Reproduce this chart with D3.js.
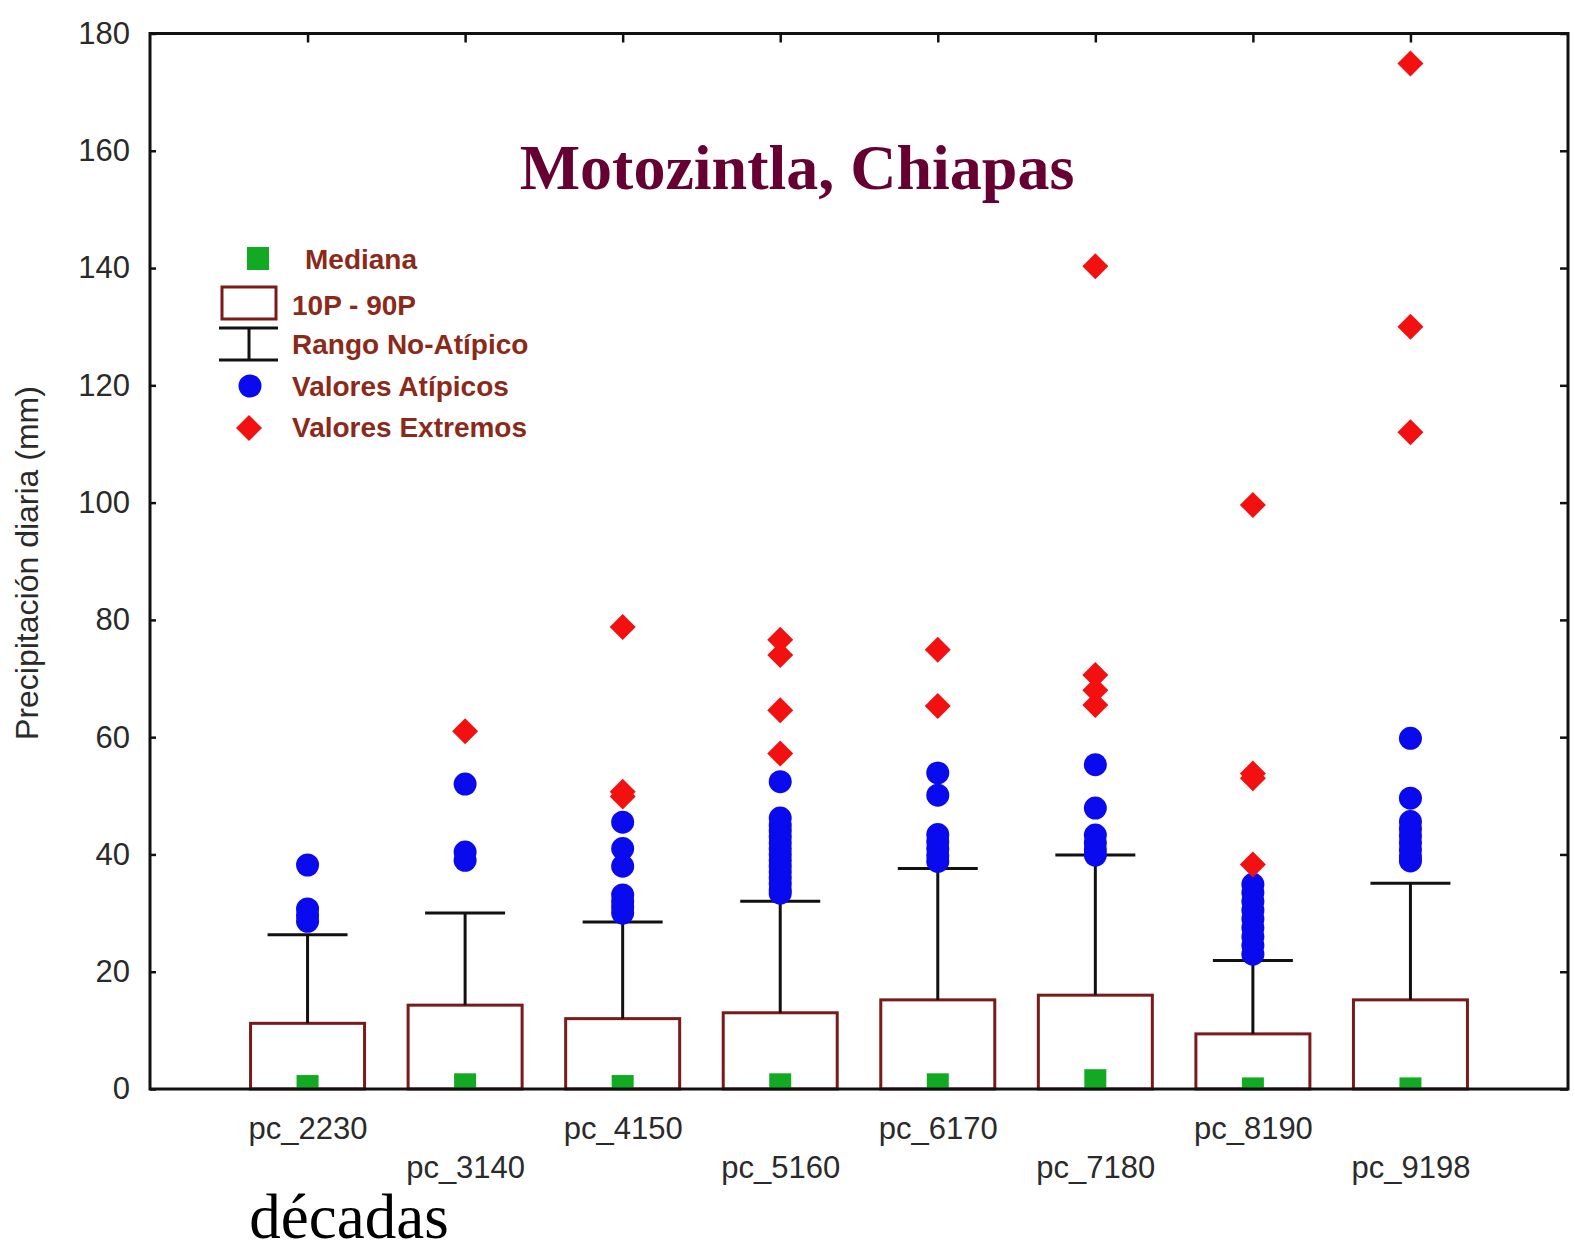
<!DOCTYPE html>
<html>
<head>
<meta charset="utf-8">
<script src="https://cdn.jsdelivr.net/npm/d3@7"></script>
<style>
  body { margin: 0; background: #fff; }
  svg { display: block; }
  .tick-lbl { font-family: "Liberation Sans", Arial, sans-serif; font-size: 31px; fill: #2a2a2a; }
  .leg { font-family: "Liberation Sans", Arial, sans-serif; font-size: 28px; font-weight: bold; fill: #8b2a1a; }
</style>
</head>
<body>
<svg id="chart" width="1575" height="1252"></svg>
<script>
// decades
const categories = ["pc_2230", "pc_3140", "pc_4150", "pc_5160", "pc_6170", "pc_7180", "pc_8190", "pc_9198"];

// box = 10P..90P, whisker = top of non-outlier range
const p10 = [0, 0, 0, 0, 0, 0, 0, 0];
const p90 = [11.2, 14.3, 12.0, 13.0, 15.2, 16.0, 9.4, 15.2];
const noAtipicoMax = [26.3, 30.0, 28.5, 32.0, 37.6, 39.9, 21.9, 35.1];
const medianas = [0.5, 0.8, 0.5, 0.8, 0.8, 1.5, 0.1, 0.1];

// valores atipicos (blue dots)
const atipicos2230 = [38.2, 30.7, 29.6, 28.6];
const atipicos3140 = [52.0, 40.4, 39.0];
const atipicos4150 = [45.5, 41.0, 38.0, 33.1, 32.0, 31.0, 30.0];
const atipicos5160 = [52.4, 46.2, 45.0, 44.0, 43.0, 42.0, 41.0, 40.0, 39.0, 38.0, 37.0, 36.0, 35.0, 34.0, 33.4];
const atipicos6170 = [53.9, 50.1, 43.4, 42.2, 41.0, 39.8, 38.8];
const atipicos7180 = [55.3, 47.9, 43.3, 42.0, 40.8, 39.9];
const atipicos8190 = [34.9, 33.5, 32.0, 30.5, 29.0, 27.5, 26.0, 24.5, 23.0];
const atipicos9198 = [59.8, 49.6, 45.6, 44.4, 43.2, 42.0, 40.8, 39.6, 38.9];

// valores extremos (red diamonds)
const extremos2230 = [];
const extremos3140 = [61.0];
const extremos4150 = [78.8, 50.7, 49.9];
const extremos5160 = [76.6, 74.0, 64.6, 57.2];
const extremos6170 = [74.9, 65.3];
const extremos7180 = [140.3, 70.6, 68.0, 65.5];
const extremos8190 = [99.6, 53.8, 53.0, 38.3];
const extremos9198 = [174.9, 130.0, 112.0];

const yTicks = [0, 20, 40, 60, 80, 100, 120, 140, 160, 180];

const atipicos = [atipicos2230, atipicos3140, atipicos4150, atipicos5160,
                  atipicos6170, atipicos7180, atipicos8190, atipicos9198];
const extremos = [extremos2230, extremos3140, extremos4150, extremos5160,
                  extremos6170, extremos7180, extremos8190, extremos9198];

const plotLeft = 150, plotRight = 1568, plotTop = 33.5, plotBottom = 1089;
const boxHalf = 57, capHalf = 40;
const maroon = "#7a1a1a";

const svg = d3.select("#chart");

const x = d3.scalePoint().domain(categories).range([plotLeft, plotRight]).padding(1);
const y = d3.scaleLinear().domain([0, 180]).range([plotBottom, plotTop]);

const stats = categories.map((c, i) => ({
  cat: c, lo: p10[i], hi: p90[i], wmax: noAtipicoMax[i], med: medianas[i]
}));

svg.append("defs").append("clipPath").attr("id", "plot-clip")
  .append("rect")
  .attr("x", plotLeft).attr("y", plotTop)
  .attr("width", plotRight - plotLeft).attr("height", plotBottom - plotTop);

// boxes
svg.append("g").selectAll("rect")
  .data(stats).enter().append("rect")
  .attr("x", d => x(d.cat) - boxHalf)
  .attr("y", d => y(d.hi))
  .attr("width", boxHalf * 2)
  .attr("height", d => y(d.lo) - y(d.hi))
  .attr("fill", "#fff")
  .attr("stroke", maroon)
  .attr("stroke-width", 3);

// whiskers
const wh = svg.append("g").attr("stroke", "#111").attr("stroke-width", 3);
wh.selectAll("line.stem")
  .data(stats).enter().append("line")
  .attr("class", "stem")
  .attr("x1", d => x(d.cat)).attr("x2", d => x(d.cat))
  .attr("y1", d => y(d.hi)).attr("y2", d => y(d.wmax));
wh.selectAll("line.cap")
  .data(stats).enter().append("line")
  .attr("class", "cap")
  .attr("x1", d => x(d.cat) - capHalf).attr("x2", d => x(d.cat) + capHalf)
  .attr("y1", d => y(d.wmax)).attr("y2", d => y(d.wmax));

// medians
svg.append("g").attr("clip-path", "url(#plot-clip)")
  .selectAll("rect")
  .data(stats).enter().append("rect")
  .attr("x", d => x(d.cat) - 11)
  .attr("y", d => y(d.med) - 11)
  .attr("width", 22).attr("height", 22)
  .attr("fill", "#12aa22");

// outliers
const atipPts = [];
atipicos.forEach((arr, i) => arr.forEach(v => atipPts.push({ cat: categories[i], v })));
const extPts = [];
extremos.forEach((arr, i) => arr.forEach(v => extPts.push({ cat: categories[i], v })));

svg.append("g").selectAll("circle")
  .data(atipPts).enter().append("circle")
  .attr("cx", d => x(d.cat))
  .attr("cy", d => y(d.v))
  .attr("r", 11.5)
  .attr("fill", "#0a0aee");

const diamond = d3.symbol().type(d3.symbolSquare).size(338);
svg.append("g").selectAll("path")
  .data(extPts).enter().append("path")
  .attr("d", diamond)
  .attr("transform", d => `translate(${x(d.cat)},${y(d.v)}) rotate(45)`)
  .attr("fill", "#f21010");

// axes
const yAxis = svg.append("g")
  .attr("transform", `translate(${plotLeft},0)`)
  .call(d3.axisLeft(y).tickValues(yTicks).tickSize(-6).tickPadding(20));
yAxis.select(".domain").remove();
yAxis.selectAll(".tick line").attr("stroke", "#111").attr("stroke-width", 2.5);
yAxis.selectAll(".tick text").attr("class", "tick-lbl");
yAxis.attr("font-size", null).attr("font-family", null);

const yAxisR = svg.append("g")
  .attr("transform", `translate(${plotRight},0)`)
  .call(d3.axisRight(y).tickValues(yTicks).tickSize(-8).tickFormat(""));
yAxisR.select(".domain").remove();
yAxisR.selectAll(".tick line").attr("stroke", "#111").attr("stroke-width", 2.5);

const xAxisT = svg.append("g")
  .attr("transform", `translate(0,${plotTop})`)
  .call(d3.axisTop(x).tickSize(-9).tickFormat(""));
xAxisT.select(".domain").remove();
xAxisT.selectAll(".tick line").attr("stroke", "#111").attr("stroke-width", 2.5);

const xAxisB = svg.append("g")
  .attr("transform", `translate(0,${plotBottom})`)
  .call(d3.axisBottom(x).tickSize(0));
xAxisB.select(".domain").remove();
xAxisB.attr("font-size", null).attr("font-family", null);
xAxisB.selectAll(".tick text")
  .attr("class", "tick-lbl")
  .attr("y", (d, i) => i % 2 === 0 ? 50 : 89)
  .attr("dy", 0);

// frame
svg.append("rect")
  .attr("x", plotLeft).attr("y", plotTop)
  .attr("width", plotRight - plotLeft).attr("height", plotBottom - plotTop)
  .attr("fill", "none").attr("stroke", "#111").attr("stroke-width", 3);

// titles
svg.append("text")
  .attr("x", 797).attr("y", 189)
  .attr("text-anchor", "middle")
  .attr("font-family", "'Liberation Serif', 'Times New Roman', serif")
  .attr("font-weight", "bold")
  .attr("font-size", 64)
  .attr("fill", "#660033")
  .text("Motozintla, Chiapas");

svg.append("text")
  .attr("transform", "translate(38,563) rotate(-90)")
  .attr("text-anchor", "middle")
  .attr("font-family", "'Liberation Sans', Arial, sans-serif")
  .attr("font-size", 32)
  .attr("fill", "#2a2a2a")
  .text("Precipitación diaria (mm)");

svg.append("text")
  .attr("x", 349).attr("y", 1238)
  .attr("text-anchor", "middle")
  .attr("font-family", "'Liberation Serif', 'Times New Roman', serif")
  .attr("font-size", 63)
  .attr("fill", "#000")
  .text("décadas");

// legend
const leg = svg.append("g");
leg.append("rect").attr("x", 247).attr("y", 247).attr("width", 22).attr("height", 23).attr("fill", "#12aa22");
leg.append("text").attr("class", "leg").attr("x", 305).attr("y", 269).text("Mediana");

leg.append("rect").attr("x", 222).attr("y", 287).attr("width", 54).attr("height", 32)
  .attr("fill", "#fff").attr("stroke", maroon).attr("stroke-width", 3);
leg.append("text").attr("class", "leg").attr("x", 292).attr("y", 315).text("10P - 90P");

const lw = leg.append("g").attr("stroke", "#111").attr("stroke-width", 3);
lw.append("line").attr("x1", 219).attr("x2", 278).attr("y1", 328).attr("y2", 328);
lw.append("line").attr("x1", 249).attr("x2", 249).attr("y1", 328).attr("y2", 360);
lw.append("line").attr("x1", 219).attr("x2", 278).attr("y1", 360).attr("y2", 360);
leg.append("text").attr("class", "leg").attr("x", 292).attr("y", 354).text("Rango No-Atípico");

leg.append("circle").attr("cx", 250).attr("cy", 386).attr("r", 11.5).attr("fill", "#0a0aee");
leg.append("text").attr("class", "leg").attr("x", 292).attr("y", 396).text("Valores Atípicos");

leg.append("path").attr("d", diamond).attr("transform", "translate(249,428) rotate(45)").attr("fill", "#f21010");
leg.append("text").attr("class", "leg").attr("x", 292).attr("y", 437).text("Valores Extremos");
</script>
</body>
</html>
